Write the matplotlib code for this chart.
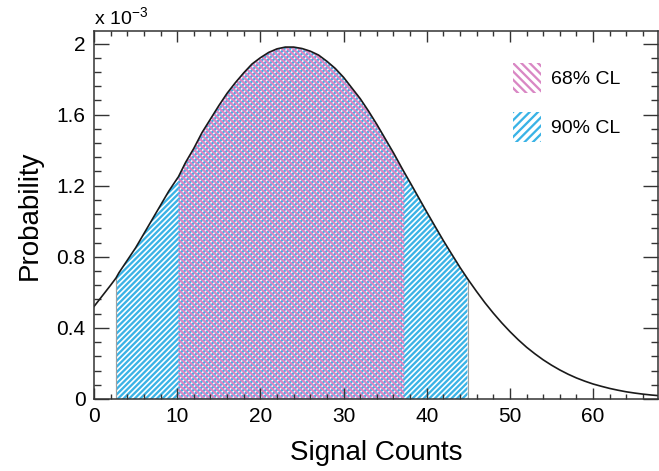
import numpy as np
import matplotlib
matplotlib.use("Agg")
import matplotlib.pyplot as plt
from matplotlib.ticker import MultipleLocator, FuncFormatter
from matplotlib.patches import Patch

plt.rcParams['font.family'] = ['Liberation Sans', 'DejaVu Sans']
plt.rcParams['mathtext.fontset'] = 'custom'
plt.rcParams['mathtext.rm'] = 'Liberation Sans'
plt.rcParams['hatch.linewidth'] = 1.65

# curve (probability in units of 1e-3)
counts = [0, 1, 2, 2.64, 3, 4, 5, 6, 7, 8, 9, 10, 10.15, 11, 12, 13, 14, 15, 16,
          17, 18, 19, 20, 21, 22, 23, 24, 25, 26, 27, 28, 29, 30, 31, 32, 33, 34,
          35, 36, 37, 37.3, 38, 39, 40, 41, 42, 43, 44, 44.9, 45, 46, 47, 48, 49,
          50, 51, 52, 53, 54, 55, 56, 57, 58, 59, 60, 61, 62, 63, 64, 65, 66, 67, 68]
prob_e3 = [0.52, 0.58, 0.64, 0.68, 0.71, 0.78, 0.85, 0.93, 1.01, 1.09, 1.17, 1.24,
           1.25, 1.33, 1.41, 1.50, 1.575, 1.65, 1.72, 1.78, 1.835, 1.885, 1.92,
           1.95, 1.97, 1.98, 1.98, 1.972, 1.957, 1.935, 1.90, 1.86, 1.81, 1.75,
           1.69, 1.62, 1.545, 1.465, 1.385, 1.30, 1.275, 1.218, 1.135, 1.052, 0.971,
           0.891, 0.815, 0.740, 0.677, 0.670, 0.604, 0.541, 0.483, 0.429, 0.379,
           0.333, 0.291, 0.254, 0.220, 0.190, 0.163, 0.139, 0.118, 0.100, 0.084,
           0.071, 0.059, 0.049, 0.040, 0.033, 0.027, 0.022, 0.018]

cl90 = (2.64, 44.9)
cl68 = (10.15, 37.3)
labels = ['68% CL', '90% CL']
blue = '#3ab3e6'
pink = '#d987c4'

x = np.array(counts)
y = np.array(prob_e3)

fig = plt.figure(figsize=(6.59, 4.71), dpi=100)
ax = fig.add_axes([0.1426, 0.153, 0.8559, 0.781])

m90 = (x >= cl90[0]) & (x <= cl90[1])
m68 = (x >= cl68[0]) & (x <= cl68[1])
ax.fill_between(x[m90], 0, y[m90], facecolor='white', edgecolor=blue,
                hatch='//////', linewidth=0)
ax.fill_between(x[m68], 0, y[m68], facecolor='none', edgecolor=pink,
                hatch='\\\\\\\\\\\\', linewidth=0)
ax.vlines([cl90[0], cl90[1]], 0, [y[x == cl90[0]][0], y[x == cl90[1]][0]],
          color='#a0a0a0', lw=0.8)
ax.plot(x, y, color='#1a1a1a', lw=1.2)

ax.set_xlim(0, 67.8)
ax.set_ylim(0, 2.07)
ax.xaxis.set_major_locator(MultipleLocator(10))
ax.xaxis.set_minor_locator(MultipleLocator(2))
ax.yaxis.set_major_locator(MultipleLocator(0.4))
ax.yaxis.set_minor_locator(MultipleLocator(0.08))
ax.yaxis.set_major_formatter(FuncFormatter(lambda v, p: '%g' % round(v, 2)))

ax.tick_params(which='both', direction='in', top=True, right=True,
               color='#333333', labelsize=15)
ax.tick_params(axis='x', which='major', length=8, width=1, pad=6)
ax.tick_params(axis='x', which='minor', length=3.8, width=1)
ax.tick_params(axis='y', which='major', length=11, width=1, pad=6)
ax.tick_params(axis='y', which='minor', length=5, width=1)
for s in ax.spines.values():
    s.set_color('#333333')
    s.set_linewidth(1.1)

ax.set_xlabel('Signal Counts', fontsize=20, labelpad=10)
ax.set_ylabel('Probability', fontsize=20, labelpad=10)
fig.text(0.143, 0.962, r'x 10$^{-3}$', fontsize=14, ha='left', va='center')

handles = [Patch(facecolor='white', edgecolor=pink, hatch='\\\\\\\\', linewidth=0),
           Patch(facecolor='white', edgecolor=blue, hatch='////', linewidth=0)]
ax.legend(handles, labels, loc='upper right', bbox_to_anchor=(0.965, 0.96),
          frameon=False, fontsize=14, handlelength=1.45, handleheight=2.0,
          labelspacing=0.95, handletextpad=0.55)

fig.savefig('out.png', dpi=100)
